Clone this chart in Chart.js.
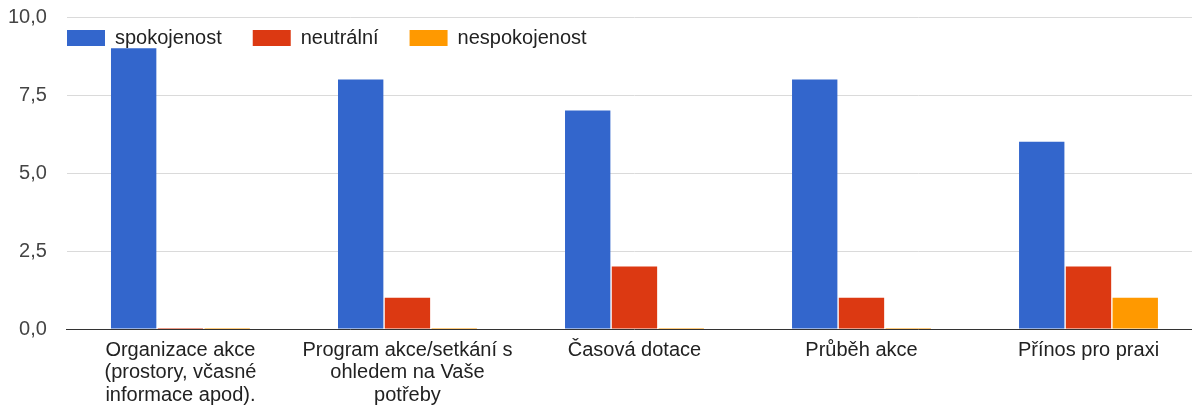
<!DOCTYPE html>
<html>
<head>
<meta charset="utf-8">
<script src="https://cdn.jsdelivr.net/npm/chart.js@4"></script>
<style>
    html, body { margin: 0; padding: 0; overflow: hidden; background: #fff; }
    #wrap { width: 1202px; height: 407px; position: relative; }
</style>
</head>
<body>
<div id="wrap"><canvas id="chart"></canvas></div>
<script>
const font = "Arial, 'Liberation Sans', sans-serif"

const categories = [
    ['Organizace akce', '(prostory, včasné', 'informace apod).'],
    ['Program akce/setkání s', 'ohledem na Vaše', 'potřeby'],
    'Časová dotace',
    'Průběh akce',
    'Přínos pro praxi'
]
const spokojenost = [9, 8, 7, 8, 6]
const neutralni = [0, 1, 2, 1, 2]
const nespokojenost = [0, 0, 0, 0, 1]
const y_ticks = [0, 2.5, 5, 7.5, 10]

// legend drawn over the plot, like the google chart
const legend_overlay = {
    id: 'legend_overlay',
    beforeInit(chart) {
        const legend = chart.legend
        const fit = legend.fit
        legend.fit = function() {
            fit.call(this)
            this._full_height = this.height
            this.height = 0
        }
    },
    afterLayout(chart) {
        const legend = chart.legend
        legend.left = 36
        legend.top = -3
        legend.height = legend._full_height + 20
        legend.bottom = legend.top + legend.height
    }
}

const options = {
    animation: false,
    responsive: true,
    maintainAspectRatio: false,
    layout: {
        padding: { top: 17, left: 8, right: 0, bottom: 0.5 }
    },
    scales: {
        x: {
            grid: { display: false, drawTicks: false },
            border: { display: true, color: '#333333', width: 1 },
            ticks: {
                color: '#222222',
                padding: 10,
                maxRotation: 0,
                autoSkip: false,
                font: { family: font, size: 20, lineHeight: 1.125 }
            },
            // chart.js counts the tick padding twice
            afterFit: axis => {
                axis.height -= 10
            }
        },
        y: {
            min: 0,
            max: 10,
            afterBuildTicks: axis => {
                axis.ticks = y_ticks.map(v => ({ value: v }))
            },
            afterFit: axis => {
                axis.width -= 20
                axis.paddingTop = 0
                axis.paddingBottom = 0
            },
            grid: { color: '#dadada', drawTicks: false },
            border: { display: false },
            ticks: {
                color: '#444444',
                padding: 20,
                font: { family: font, size: 20 },
                callback: v => v.toFixed(1).replace('.', ',')
            }
        }
    },
    plugins: {
        legend: {
            position: 'top',
            align: 'start',
            labels: {
                color: '#222222',
                boxWidth: 38,
                boxHeight: 16,
                padding: 31,
                font: { family: font, size: 20 }
            }
        },
        tooltip: { enabled: false }
    }
}

const bar_style = {
    borderWidth: 0,
    categoryPercentage: 0.618,
    barPercentage: 0.97,
    minBarLength: 1
}

const chart = new Chart(document.getElementById('chart'), {
    type: 'bar',
    data: {
        labels: categories,
        datasets: [
            { label: 'spokojenost', data: spokojenost, backgroundColor: '#3366cc', ...bar_style },
            { label: 'neutrální', data: neutralni, backgroundColor: '#dc3912', ...bar_style },
            { label: 'nespokojenost', data: nespokojenost, backgroundColor: '#ff9900', ...bar_style }
        ]
    },
    options: options,
    plugins: [legend_overlay]
})
</script>
</body>
</html>
